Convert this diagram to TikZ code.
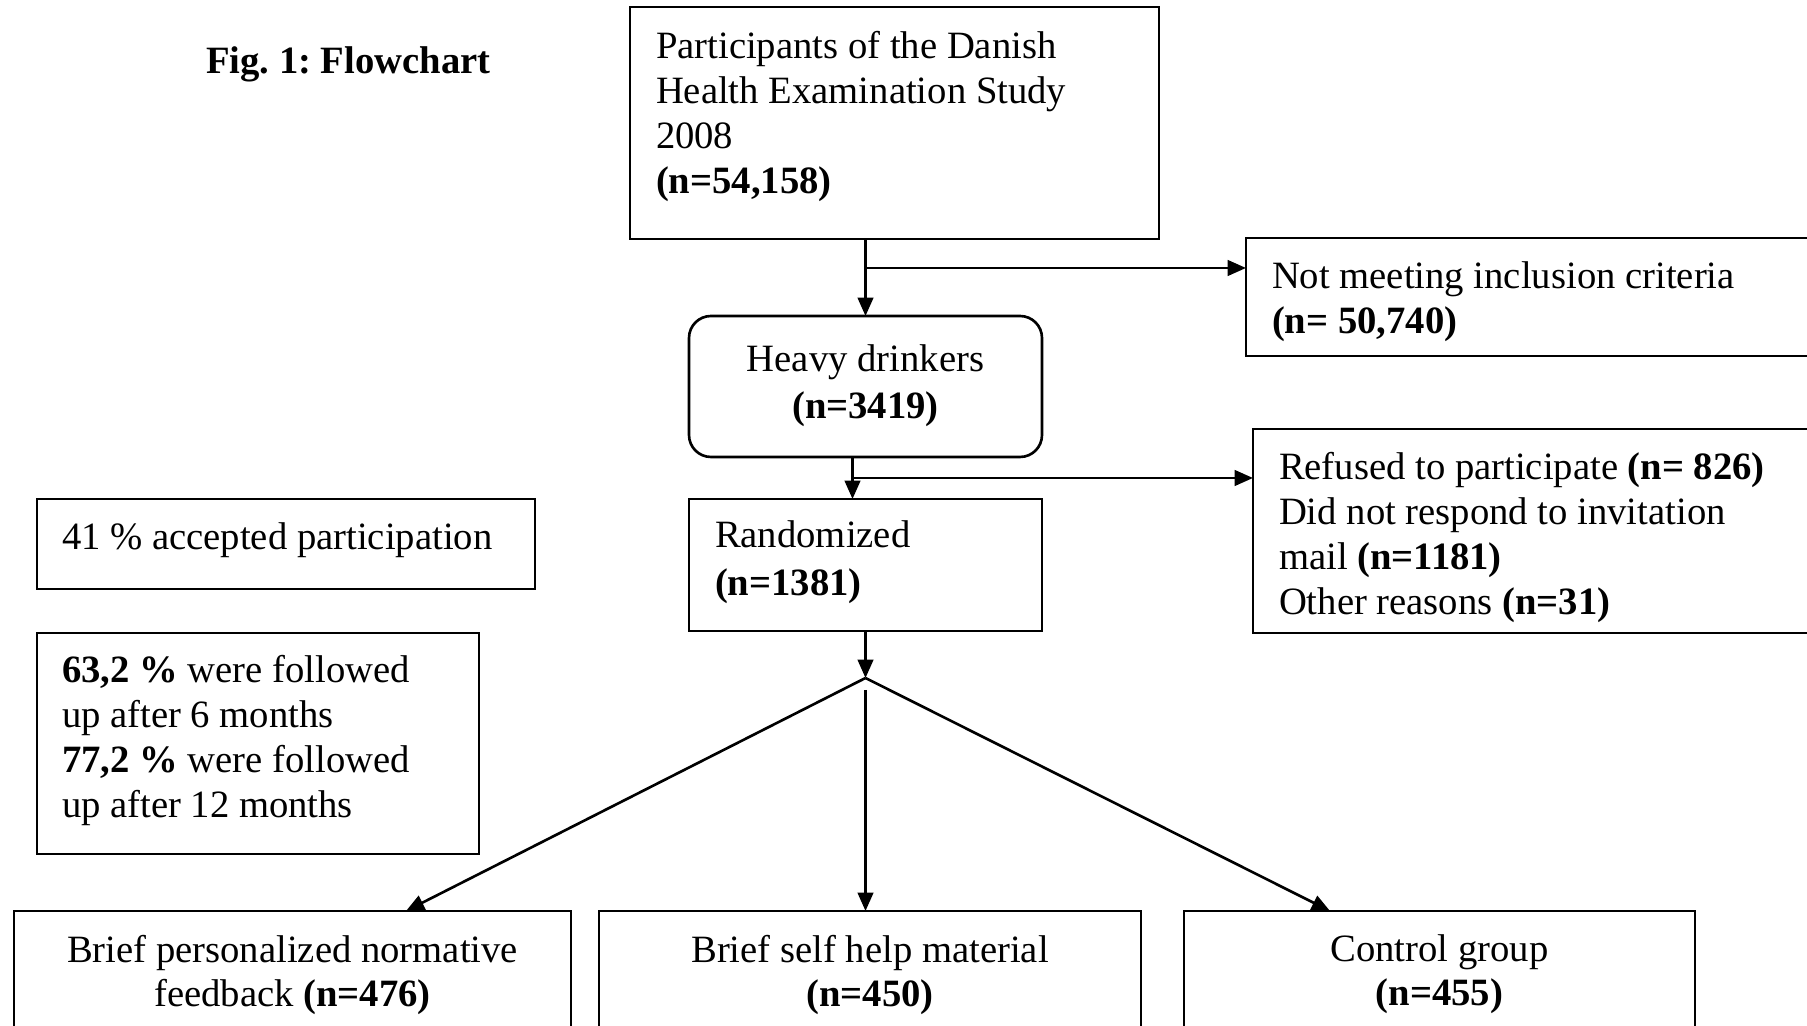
\documentclass[tikz,border=0pt]{standalone}
\usepackage{fontspec}
\setmainfont{Liberation Serif}
\usetikzlibrary{positioning,calc,arrows.meta}
\frenchspacing

\tikzset{
  box/.style={draw,line width=0.75pt,rectangle,anchor=north west,
    inner sep=0pt,outer sep=0pt},
  roundbox/.style={box,rounded corners=0.22cm},
  boxtext/.style={inner sep=0pt,outer sep=0pt,align=left,
    font=\fontsize{11pt}{12.8pt}\selectfont},
  flow/.style={line width=0.75pt,-{Triangle[length=5.2pt,width=4.4pt]}},
}

\newcommand{\flowbox}[5]{
    % Flowchart Box Placed at its North-West Corner
    % \flowbox{name}{position}{width}{height}{style}
    % example:
    %   \flowbox{b}{(0,0)}{4}{1.2}{box}
    %   \draw[flow] (b.south) -- ++(0,-0.5);
    \node (#1) [#5,minimum width=#3cm,minimum height=#4cm] at #2 {};
}

\begin{document}
\begin{tikzpicture}
  \useasboundingbox (0,0) rectangle (18.07,-10.26);
  \clip (0,0) rectangle (18.07,-10.26);

  \node (title) [boxtext,anchor=base west,font=\fontsize{11pt}{12.8pt}\selectfont\bfseries]
      at (2.06,-0.735) {Fig. 1: Flowchart};

  % boxes
  \flowbox{part}{(6.30,-0.07)}{5.29}{2.32}{box}
  \flowbox{notmeet}{(12.46,-2.38)}{6.5}{1.18}{box}
  \flowbox{heavy}{(6.89,-3.16)}{3.53}{1.41}{roundbox}
  \flowbox{rand}{(6.89,-4.99)}{3.53}{1.32}{box}
  \flowbox{refused}{(12.53,-4.29)}{6.5}{2.04}{box}
  \flowbox{accept}{(0.37,-4.99)}{4.98}{0.90}{box}
  \flowbox{follow}{(0.37,-6.33)}{4.42}{2.21}{box}
  \flowbox{fbk}{(0.14,-9.11)}{5.57}{1.5}{box}
  \flowbox{selfhelp}{(5.99,-9.11)}{5.42}{1.5}{box}
  \flowbox{control}{(11.84,-9.11)}{5.11}{1.5}{box}

  % texts
  \node (partT) [boxtext,below right=0.245cm and 0.26cm of part.north west]
      {Participants of the Danish\\Health Examination Study\\2008\\\textbf{(n=54,158)}};
  \node (notmeetT) [boxtext,below right=0.24cm and 0.26cm of notmeet.north west]
      {Not meeting inclusion criteria\\\textbf{(n= 50,740)}};
  \node (heavyT) [boxtext,align=center,below=0.29cm of heavy.north]
      {Heavy drinkers\\[0.5pt]\textbf{(n=3419)}};
  \node (randT) [boxtext,below right=0.215cm and 0.26cm of rand.north west]
      {Randomized\\[0.8pt]\textbf{(n=1381)}};
  \node (refusedT) [boxtext,below right=0.235cm and 0.26cm of refused.north west]
      {Refused to participate \textbf{(n= 826)}\\Did not respond to invitation\\
       mail \textbf{(n=1181)}\\Other reasons \textbf{(n=31)}};
  \node (acceptT) [boxtext,below right=0.235cm and 0.25cm of accept.north west]
      {41 \% accepted participation};
  \node (followT) [boxtext,below right=0.22cm and 0.25cm of follow.north west]
      {\textbf{63,2 \%} were followed\\up after 6 months\\
       \textbf{77,2 \%} were followed\\up after 12 months};
  \node (fbkT) [boxtext,align=center,below=0.24cm of fbk.north]
      {Brief personalized normative\\[-0.3pt]feedback \textbf{(n=476)}};
  \node (selfhelpT) [boxtext,align=center,below=0.24cm of selfhelp.north]
      {Brief self help material\\[-0.3pt]\textbf{(n=450)}};
  \node (controlT) [boxtext,align=center,below=0.24cm of control.north]
      {Control group\\[-0.3pt]\textbf{(n=455)}};

  % connectors
  \draw[flow] (part.south -| heavy.north) -- (heavy.north);
  \coordinate (forkOne) at ($(part.south -| heavy.north)+(0,-0.29)$);
  \draw[flow] (forkOne) -- (forkOne -| notmeet.west);

  \coordinate (heavyOut) at ($(heavy.south)+(-0.13,0)$);
  \draw[flow] (heavyOut) -- (heavyOut |- rand.north);
  \coordinate (forkTwo) at ($(heavyOut)+(0,-0.21)$);
  \draw[flow] (forkTwo) -- (forkTwo -| refused.west);

  \coordinate (split) at ($(rand.south)+(0,-0.47)$);
  \draw[flow] (rand.south) -- (split);
  \draw[flow] (split) -- ($(fbk.north west)+(3.92,0)$);
  \draw[flow] ($(split)+(0,-0.12)$) -- (split |- selfhelp.north);
  \draw[flow] (split) -- ($(control.north west)+(1.46,0)$);
\end{tikzpicture}
\end{document}
